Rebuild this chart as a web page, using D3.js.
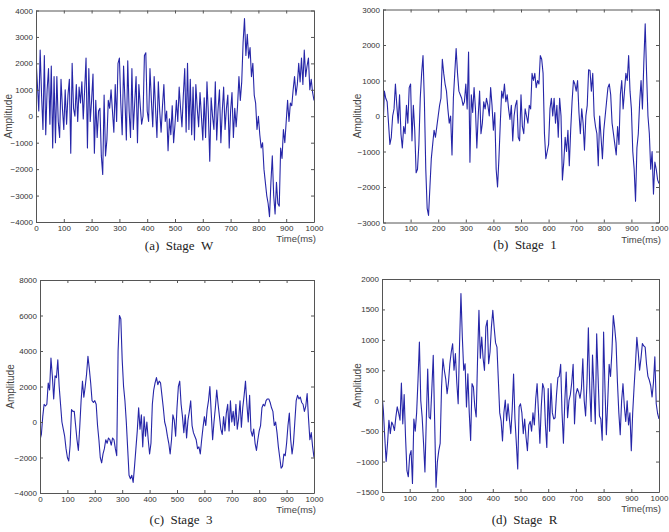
<!DOCTYPE html>
<html>
<head>
<meta charset="utf-8">
<script src="https://cdn.jsdelivr.net/npm/d3@7/dist/d3.min.js"></script>
<style>
  body { margin: 0; background: #fff; }
  svg { display: block; }
  .tick text { font-family: "Liberation Sans", Arial, sans-serif; font-size: 8px; fill: #333; }
  .tick line, .domain { stroke: #555; }
</style>
</head>
<body>
<svg width="669" height="532"></svg>
<script>
// sampling interval of the EEG traces (ms)
const sampleMs = 5;
const timeTicks = [0, 100, 200, 300, 400, 500, 600, 700, 800, 900, 1000];

const captions = ['(a)  Stage  W', '(b)  Stage  1', '(c)  Stage  3', '(d)  Stage  R'];

const ticksW = [-4000, -3000, -2000, -1000, 0, 1000, 2000, 3000, 4000];
const ticks1 = [-3000, -2000, -1000, 0, 1000, 2000, 3000];
const ticks3 = [-4000, -2000, 0, 2000, 4000, 6000, 8000];
const ticksR = [-1500, -1000, -500, 0, 500, 1000, 1500, 2000];

// amplitudes read every 5 ms, one row = 50 ms
const ampW = [
  2200, 1200, 200, 2500, 800, -500, 2300, -700, 1000, 1800,
  -300, 1900, -1200, 1500, -1000, 1500, -200, -800, 1400, 300,
  -500, 1000, -300, 800, 1400, -1400, 2000, 300, 0, 1200,
  -200, 1100, 500, 1300, -100, 1000, 2200, -1200, 1800, -200,
  600, 1600, -1400, 600, -800, 200, 300, -1500, -2200, 800,
  -1500, -900, 600, 300, 1000, 200, -600, 1200, -200, 2000,
  2200, 500, -700, 1900, 600, -900, 2100, 200, -800, 1800,
  -500, 500, 1500, -1000, 1200, 400, -300, 0, 2300, 2400,
  200, -200, 1800, 600, -400, 1500, 300, -800, 1300, 200,
  -600, 400, 1200, -200, 200, -1300, -100, -700, 400, -1000,
  -300, 600, -200, 1100, 300, -400, 800, 1800, -600, 2000,
  -500, 1400, -700, 1100, -900, 1200, 300, -400, 900, 0,
  -900, 700, -800, 1300, 100, -1700, 700, 0, -500, 1300,
  -900, 300, 1000, -1000, 200, 1100, -500, 300, 800, -1200,
  200, 900, -800, 300, -400, 400, 1500, 600, 1300, 2800,
  3700, 2300, 3100, 2200, 2600, 1500, 2000, 800, 500, -500,
  0, -700, -1200, -1000, -2000, -2500, -3000, -3300, -3800, -2500,
  -1500, -3000, -3700, -2500, -3300, -3400, -1200, -1600, -500, -1000,
  -200, 600, -200, 500, 400, 1000, 1500, 800, 1200, 2000,
  1300, 2200, 1200, 2500, 1500, 1900, 2200, 1000, 1400, 900,
  600
];

const amp1 = [
  -400, 700, 500, 400, -200, -800, -600, 0, 200, 900,
  300, -200, 600, -500, -900, -300, -500, 300, -200, 800,
  900, -700, 300, -400, -1600, -1500, -800, 500, 1200, 1700,
  400, -1500, -2600, -2800, -2000, -1200, -800, -400, -600, -300,
  0, 300, 500, 1600, 1200, 900, 700, 200, -200, 0,
  -1100, 500, 1200, 1900, 1200, 700, 600, 500, 300, 400,
  900, 200, 1800, -1300, 600, 100, 800, 200, -900, 0,
  700, -500, -200, 400, 200, 500, 300, 0, 800, 300,
  -400, 100, -1500, -2000, -1200, -200, 700, 500, 900, 400,
  600, 200, -100, 300, -700, 0, 300, 440, -600, -700,
  600, -300, -500, 200, 0, -200, 300, 200, 1200, 1000,
  1200, 800, 1000, 900, 1700, 1600, 1200, -500, -1200, -1000,
  -800, 200, 500, 0, 500, -200, 300, -600, 500, 0,
  -1800, -1300, -600, -1000, -400, -1400, -400, 400, 1000, 900,
  700, 1000, 100, -500, 200, -200, -960, 0, 300, 1300,
  1280, 700, 1200, 0, -300, -500, -1400, 0, -600, -1200,
  -400, 0, 400, 800, 900, 600, -200, -500, -800, -1100,
  -300, -800, 600, 1000, 200, 700, 1200, 1000, 1700, 700,
  200, -1000, -1500, -2400, -900, -500, 400, 1000, 200, 1500,
  2600, 1200, 0, -500, -1500, -1000, -2200, -1300, -1500, -1800,
  -1900
];

const amp3 = [
  -1000, -700, 300, 1000, 900, 1000, 2200, 1800, 3600, 2600,
  1300, 2600, 2500, 3500, 2000, 1000, 0, -400, -800, -1500,
  -2000, -2200, -1300, 700, 600, 600, -200, -1000, -1600, -300,
  1200, 2300, 1400, 2000, 2700, 3700, 3000, 2200, 1200, 1100,
  1200, 1000, -200, -1000, -2000, -2300, -1800, -1500, -1000, -1200,
  -900, -1000, -1300, -900, -1000, -1500, -1900, 4000, 6000, 5800,
  3500, 2000, 1200, 0, -1500, -3000, -3200, -3000, -3400, -2500,
  -1500, -500, 800, -400, 400, -1400, 300, -800, 0, -1000,
  -1800, -1200, 1000, 1800, 2200, 2500, 2100, 2300, 2200, 1500,
  800, 0, -300, -800, -1200, -1800, -1000, 400, 100, -800,
  800, 2000, 2300, 1000, 300, -600, 400, -900, 100, 600,
  1200, -200, -600, -800, -1000, -1500, -1400, -1800, -1000, -300,
  300, -200, 700, 1200, 2000, 500, -1000, 0, 800, 1800,
  1000, 300, -400, -700, 300, -500, 500, 1000, -500, 1200,
  0, 600, -200, 1000, -400, 200, 1200, -300, 800, 1500,
  2300, 1000, 0, 1500, -500, -800, -400, -1200, -1600, -1000,
  -500, -200, 800, 1000, 900, 1200, 1300, 1300, 1100, 800,
  600, -200, 0, -600, -1400, -2000, -2600, -2500, -1800, -1900,
  -1200, -200, 500, -1000, -1800, -1200, 0, 1200, 1500, 1300,
  1400, 1100, 1000, 600, 900, 1600, 200, -1000, -600, -1400,
  -2000
];

const ampR = [
  100, -160, -600, -1000, -700, -320, -540, -350, -400, -490,
  -270, -100, -200, -320, 290, -380, 100, -600, -1150, -1250,
  -900, -820, -1360, -300, -500, -200, 340, 965, 0, -270,
  -700, -1170, -300, 520, -270, -300, 200, 745, -320, -1420,
  -1000, -820, -700, 225, 690, 500, 360, 116, 300, 608,
  800, 937, 500, 773, 300, -50, 937, 1760, 1048, 500,
  608, -104, 444, -200, -652, 280, 225, -100, -268, 690,
  1487, 700, 1048, 700, 499, 1212, 1322, 608, 800, 1212,
  1487, 1200, 950, 880, 340, -200, -330, -660, -200, 10,
  -330, -50, -300, -540, -150, 440, -300, -700, -1120, -100,
  -50, -200, -540, -300, -600, -820, -400, -340, -500, -200,
  -400, 30, 280, -200, -700, -100, 282, 200, -400, -770,
  200, -500, 280, -200, -300, -280, 100, 380, 400, 600,
  -200, -700, 0, 470, -280, 0, 100, 300, 600, -380,
  100, 200, 140, 40, 200, 690, 0, -250, 300, 1200,
  200, -340, 750, 200, -380, 1100, 400, -250, -300, -650,
  1130, 200, -560, 0, 600, 400, 800, 1400, 1200, 950,
  300, -200, -560, 0, 280, -100, -340, 0, -400, -200,
  -820, -200, 220, 600, 1040, 800, 500, 700, 940, 900,
  880, 600, 400, 340, 250, 60, 300, 720, -50, -210,
  -300
];

const panels = [
  { data: ampW, ticks: ticksW, box: [36, 10.5, 314, 222], ylab: 28, caption: captions[0], capY: 250 },
  { data: amp1, ticks: ticks1, box: [383, 9.5, 659, 222.5], ylab: 26, caption: captions[1], capY: 249 },
  { data: amp3, ticks: ticks3, box: [40, 280, 314, 493], ylab: 30, caption: captions[2], capY: 524 },
  { data: ampR, ticks: ticksR, box: [382, 279, 659, 492], ylab: 25, caption: captions[3], capY: 524 }
];

const svg = d3.select('svg');
svg.append('rect').attr('width', 669).attr('height', 532).attr('fill', '#fff');

panels.forEach((p, k) => {
  const [x0, y0, x1, y1] = p.box;
  const x = d3.scaleLinear().domain([0, 1000]).range([x0, x1]);
  const y = d3.scaleLinear().domain(d3.extent(p.ticks)).range([y1, y0]);
  const g = svg.append('g');

  g.append('clipPath').attr('id', 'clip' + k)
    .append('rect').attr('x', x0).attr('y', y0).attr('width', x1 - x0).attr('height', y1 - y0);

  g.append('path')
    .datum(p.data)
    .attr('clip-path', `url(#clip${k})`)
    .attr('fill', 'none')
    .attr('stroke', '#2626a8')
    .attr('stroke-width', 1.1)
    .attr('stroke-linejoin', 'round')
    .attr('d', d3.line().x((d, i) => x(i * sampleMs)).y(d => y(d)));

  // matlab style box with inward ticks
  g.append('g').attr('transform', `translate(0,${y1})`)
    .call(d3.axisBottom(x).tickValues(timeTicks).tickSize(-3).tickSizeOuter(0).tickPadding(3).tickFormat(d3.format('d')));
  g.append('g').attr('transform', `translate(0,${y0})`)
    .call(d3.axisTop(x).tickValues(timeTicks).tickSize(-3).tickSizeOuter(0).tickFormat(''));
  g.append('g').attr('transform', `translate(${x0},0)`)
    .call(d3.axisLeft(y).tickValues(p.ticks).tickSize(-3).tickSizeOuter(0).tickPadding(3).tickFormat(d3.format('d')));
  g.append('g').attr('transform', `translate(${x1},0)`)
    .call(d3.axisRight(y).tickValues(p.ticks).tickSize(-3).tickSizeOuter(0).tickFormat(''));

  g.append('text')
    .attr('transform', `translate(${x0 - p.ylab},${(y0 + y1) / 2}) rotate(-90)`)
    .attr('text-anchor', 'middle')
    .attr('dy', '0.35em')
    .style('font-family', '"Liberation Sans", Arial, sans-serif')
    .style('font-size', '10px')
    .attr('fill', '#444')
    .text('Amplitude');

  g.append('text')
    .attr('x', x1 + 2)
    .attr('y', y1 + 20)
    .attr('text-anchor', 'end')
    .style('font-family', '"Liberation Sans", Arial, sans-serif')
    .style('font-size', '9.5px')
    .attr('fill', '#444')
    .text('Time(ms)');

  g.append('text')
    .attr('x', (x0 + x1) / 2 + 4)
    .attr('y', p.capY)
    .attr('text-anchor', 'middle')
    .style('font-family', '"Liberation Serif", "DejaVu Serif", serif')
    .style('font-size', '13px')
    .style('white-space', 'pre')
    .attr('fill', '#222')
    .text(p.caption);
});
</script>
</body>
</html>
